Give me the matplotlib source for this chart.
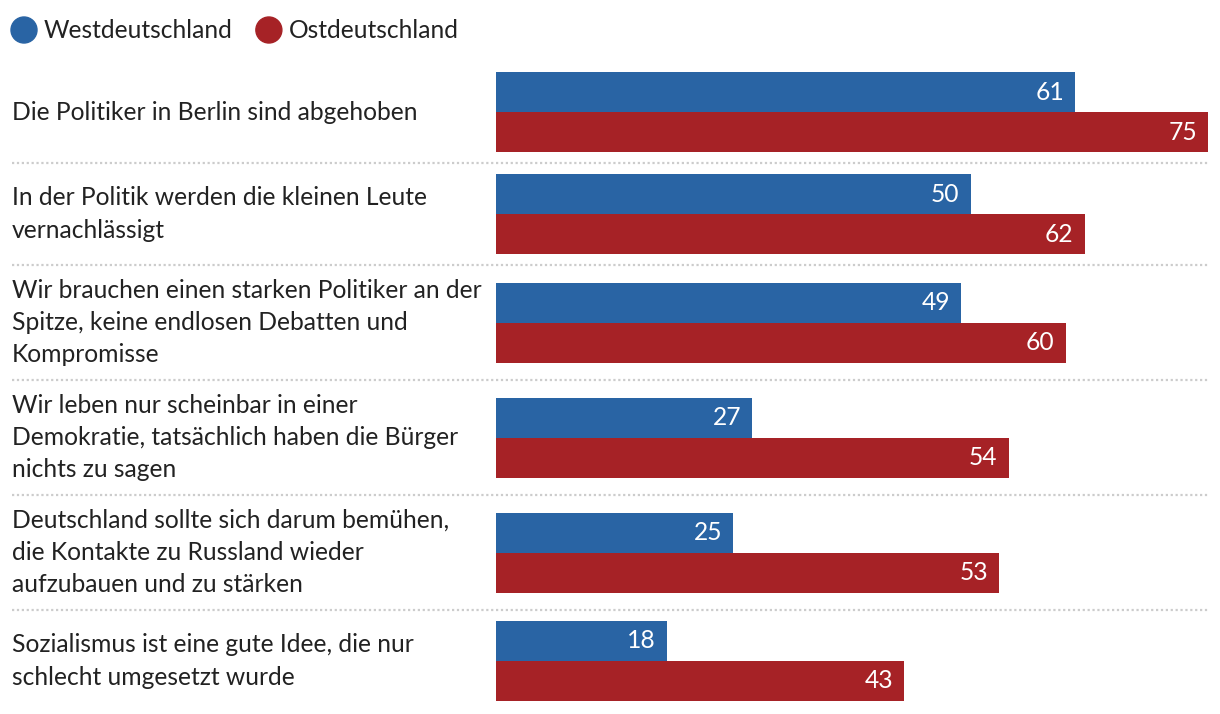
import matplotlib
matplotlib.use("Agg")
import matplotlib.pyplot as plt
from matplotlib.lines import Line2D
from matplotlib.patches import Circle
from matplotlib.transforms import IdentityTransform

categories = [
    "Die Politiker in Berlin sind abgehoben",
    "In der Politik werden die kleinen Leute\nvernachlässigt",
    "Wir brauchen einen starken Politiker an der\nSpitze, keine endlosen Debatten und\nKompromisse",
    "Wir leben nur scheinbar in einer\nDemokratie, tatsächlich haben die Bürger\nnichts zu sagen",
    "Deutschland sollte sich darum bemühen,\ndie Kontakte zu Russland wieder\naufzubauen und zu stärken",
    "Sozialismus ist eine gute Idee, die nur\nschlecht umgesetzt wurde",
]
west = [61, 50, 49, 27, 25, 18]
ost = [75, 62, 60, 54, 53, 43]
series_names = ["Westdeutschland", "Ostdeutschland"]
colors = ["#2964a4", "#a62226"]

W, H = 1220, 714
plt.rcParams['font.family'] = ['Lato', 'DejaVu Sans']
fig = plt.figure(figsize=(W / 100, H / 100), dpi=100)

# bar axes: x from 0..75 maps to px 496..1208 ; y in pixel units (inverted)
x0, x1 = 496, 1208
ax = fig.add_axes([x0 / W, 0, (x1 - x0) / W, 1])
ax.set_xlim(0, 75)
ax.set_ylim(H, 0)
ax.axis("off")

text_color = "#222222"
fs = 17.7
y = 61
bar_h = 40
for i, cat in enumerate(categories):
    nlines = cat.count("\n") + 1
    gh = 102 if nlines <= 2 else 115
    c = y + gh / 2
    for val, off, col in [(west[i], -bar_h / 2, colors[0]), (ost[i], bar_h / 2, colors[1])]:
        ax.barh(c + off, val, height=bar_h, color=col, linewidth=0)
        ax.annotate(str(val), xy=(val, c + off), xytext=(-8, 0), textcoords="offset points",
                    ha="right", va="center", color="white", fontsize=fs)
    fig.text(12 / W, 1 - c / H, cat, ha="left", va="center", fontsize=fs,
             color=text_color, linespacing=1.48)
    y += gh
    if i < len(categories) - 1:
        fig.add_artist(Line2D([12 / W, x1 / W], [1 - y / H, 1 - y / H], color="#cccccc",
                              linewidth=1.6, linestyle=(0, (1, 1.2))))

# legend
lx = 24
for name, col in zip(series_names, colors):
    fig.add_artist(Circle((lx, H - 30), 13, color=col, transform=IdentityTransform()))
    t = fig.text((lx + 20) / W, 1 - 30 / H, name, ha="left", va="center",
                 fontsize=fs, color=text_color)
    fig.canvas.draw()
    bb = t.get_window_extent()
    lx = bb.x1 + 36

fig.savefig("out.png", dpi=100)
